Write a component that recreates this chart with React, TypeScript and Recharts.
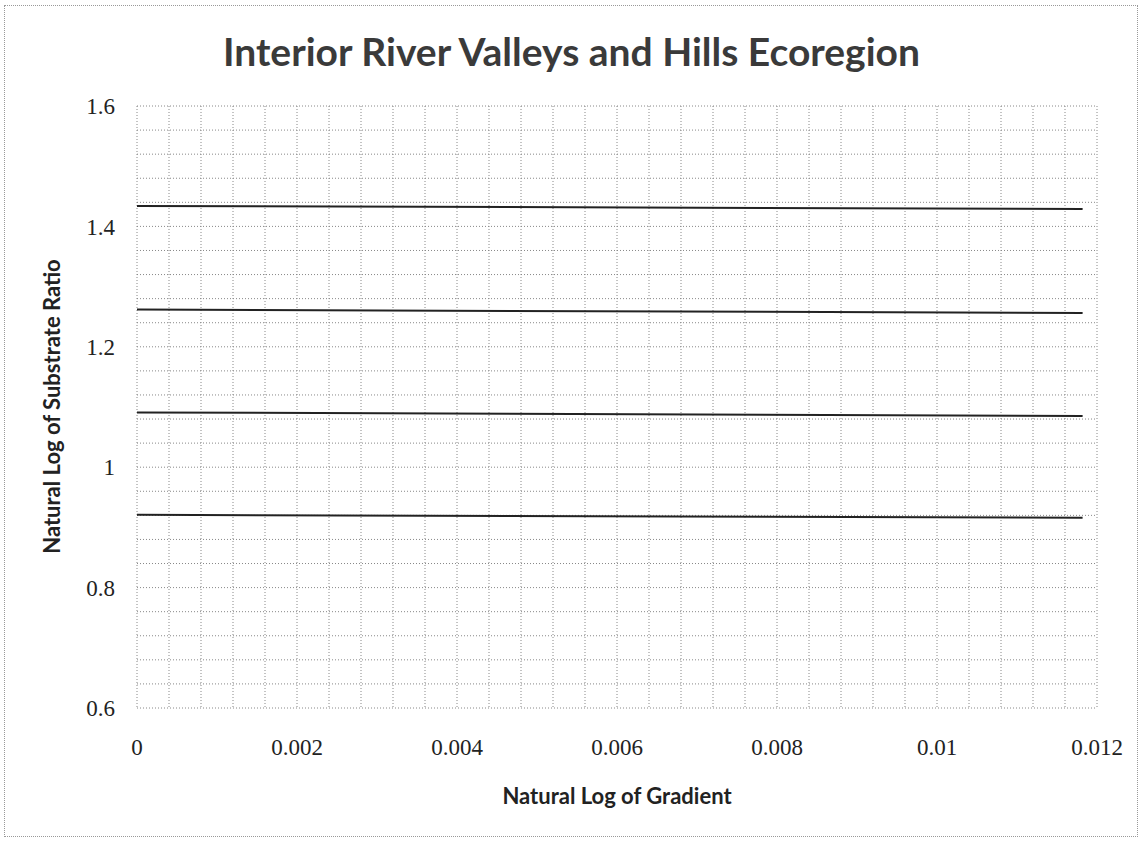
import { LineChart, Line, XAxis, YAxis, CartesianGrid } from 'recharts';

// tick labels
const xTicks = [0, 0.002, 0.004, 0.006, 0.008, 0.01, 0.012];
const yTicks = [0.6, 0.8, 1, 1.2, 1.4, 1.6];

// minor gridlines (every 0.0004 on x, every 0.04 on y)
const xGrid = Array.from({ length: 31 }, (_, i) => +(i * 0.0004).toFixed(4));
const yGrid = Array.from({ length: 26 }, (_, i) => +(0.6 + i * 0.04).toFixed(2));

// four near-flat lines (start, end)
const xEnds = [0, 0.01182];
const line1 = [1.434, 1.429];
const line2 = [1.262, 1.256];
const line3 = [1.091, 1.085];
const line4 = [0.921, 0.916];

const toData = (ys: number[]) => ys.map((y, i) => ({ x: xEnds[i], y }));
const series = [line1, line2, line3, line4].map(toData);

const X_MAX = 0.012;
const Y_MIN = 0.6;
const Y_MAX = 1.6;

const tickFont = { fontFamily: 'Liberation Serif', fontSize: 23, fill: '#222' };

export default function App() {
  return (
    <div style={{ position: 'absolute', left: 0, top: 0, width: 1143, height: 842, background: '#fff' }}>
      <div
        style={{
          position: 'absolute', left: 4, top: 5, width: 1134, height: 832,
          border: '1px dotted #999', boxSizing: 'border-box',
        }}
      />
      <div
        style={{
          position: 'absolute', left: 0, top: 28, width: 1143, textAlign: 'center',
          fontFamily: 'Lato', fontWeight: 700, fontSize: 39, color: '#3a3a3a',
        }}
      >
        Interior River Valleys and Hills Ecoregion
      </div>
      <div style={{ position: 'absolute', left: 51, top: 407, width: 0, height: 0 }}>
        <div
          style={{
            position: 'absolute', left: -200, top: -14, width: 400, textAlign: 'center',
            transform: 'rotate(-90deg)', fontFamily: 'Lato', fontWeight: 700,
            fontSize: 22, color: '#222', whiteSpace: 'nowrap',
          }}
        >
          Natural Log of Substrate Ratio
        </div>
      </div>
      <div
        style={{
          position: 'absolute', left: 417, top: 782, width: 400, textAlign: 'center',
          fontFamily: 'Lato', fontWeight: 700, fontSize: 22, color: '#222',
        }}
      >
        Natural Log of Gradient
      </div>
      <LineChart
        width={1143}
        height={842}
        margin={{ top: 106, right: 46, bottom: 34, left: 0 }}
        style={{ position: 'absolute', left: 0, top: 0 }}
      >
        <CartesianGrid
          stroke="#888"
          strokeDasharray="1 2"
          horizontalCoordinatesGenerator={({ offset }: any) =>
            yGrid.map((v) => offset.top + ((Y_MAX - v) / (Y_MAX - Y_MIN)) * offset.height)
          }
          verticalCoordinatesGenerator={({ offset }: any) =>
            xGrid.map((v) => offset.left + (v / X_MAX) * offset.width)
          }
        />
        <XAxis
          type="number"
          dataKey="x"
          domain={[0, X_MAX]}
          ticks={xTicks}
          tick={tickFont}
          tickLine={false}
          axisLine={false}
          tickSize={0}
          tickMargin={31}
          height={100}
          allowDataOverflow
        />
        <YAxis
          type="number"
          dataKey="y"
          domain={[Y_MIN, Y_MAX]}
          ticks={yTicks}
          tick={tickFont}
          tickLine={false}
          axisLine={false}
          tickSize={0}
          tickMargin={22}
          width={137}
          allowDataOverflow
        />
        {series.map((d, i) => (
          <Line
            key={i}
            data={d}
            dataKey="y"
            type="linear"
            stroke="#222"
            strokeWidth={2}
            dot={false}
            activeDot={false}
            isAnimationActive={false}
          />
        ))}
      </LineChart>
    </div>
  );
}
